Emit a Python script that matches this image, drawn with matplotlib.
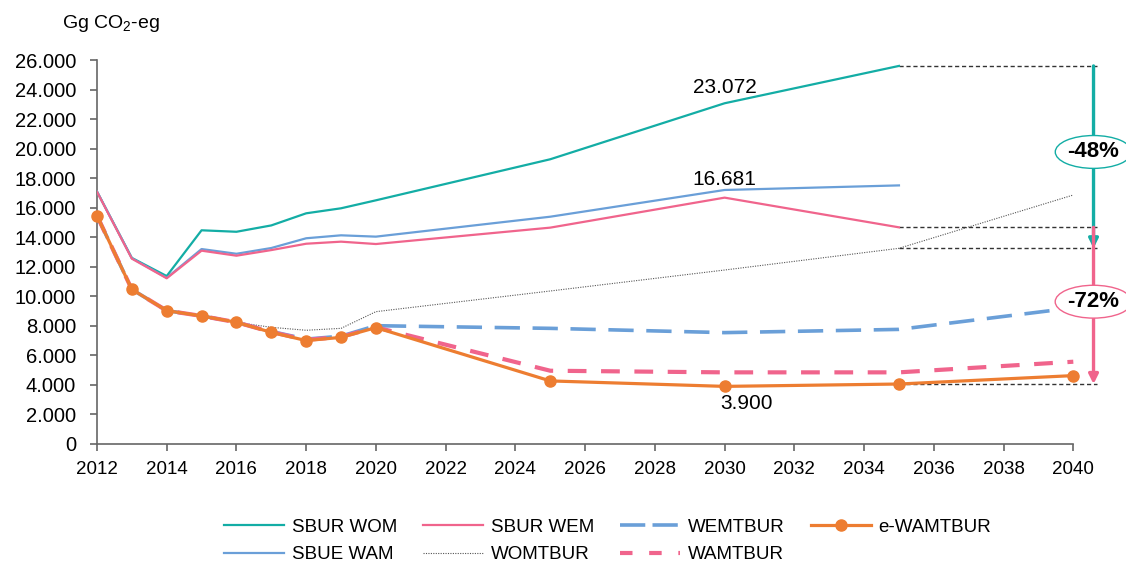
import matplotlib
matplotlib.use("Agg")
import matplotlib.pyplot as plt
from matplotlib.ticker import FuncFormatter, MultipleLocator
from matplotlib.lines import Line2D

plt.rcParams['font.family'] = ['Liberation Sans', 'DejaVu Sans']
plt.rcParams['mathtext.fontset'] = 'custom'
plt.rcParams['mathtext.rm'] = 'Liberation Sans'
plt.rcParams['mathtext.it'] = 'Liberation Sans:italic'

# ---------------- data ----------------
years_sbur = [2012, 2013, 2014, 2015, 2016, 2017, 2018, 2019, 2020, 2025, 2030, 2035]
years_tbur = [2012, 2013, 2014, 2015, 2016, 2017, 2018, 2019, 2020, 2025, 2030, 2035, 2040]

sbur_wom = [17100, 12600, 11370, 14470, 14370, 14800, 15620, 15960, 16500, 19280, 23072, 25600]
sbur_wem = [17080, 12550, 11220, 13090, 12750, 13130, 13560, 13700, 13540, 14650, 16681, 14670]
sbue_wam = [17100, 12580, 11250, 13200, 12880, 13270, 13930, 14130, 14040, 15390, 17200, 17510]

wom_tbur = [15460, 10470, 9030, 8670, 8240, 7900, 7700, 7830, 8960, 10360, 11780, 13250, 16860]
wem_tbur = [15460, 10470, 9030, 8670, 8240, 7620, 7100, 7300, 8010, 7830, 7540, 7760, 9220]
wam_tbur = [15460, 10470, 9030, 8670, 8240, 7580, 7050, 7250, 7900, 4960, 4850, 4850, 5570]
ewam_tbur = [15460, 10470, 9030, 8670, 8240, 7560, 7000, 7220, 7880, 4270, 3900, 4060, 4630]

labels = ["SBUR WOM", "SBUE WAM", "SBUR WEM", "WOMTBUR", "WEMTBUR", "WAMTBUR", "e-WAMTBUR"]
pct_labels = ["-48%", "-72%"]

# ---------------- style ----------------
teal = "#13ADA5"
pink = "#F0648C"
blue = "#6A9FD8"
orange = "#ED7D31"
gray = "#555555"

fig = plt.figure(figsize=(11.26, 5.62), dpi=100)
ax = fig.add_axes([0.0861, 0.2100, 0.9532 - 0.0861, 0.8932 - 0.2100])

ax.plot(years_sbur, sbur_wom, color=teal, lw=1.6, zorder=3)
ax.plot(years_sbur, sbue_wam, color=blue, lw=1.6, zorder=3)
ax.plot(years_sbur, sbur_wem, color=pink, lw=1.6, zorder=3.5)
ax.plot(years_tbur, wom_tbur, color=gray, lw=0.8, ls=(0, (1, 1.2)), zorder=2)
ax.plot(years_tbur, wem_tbur, color=blue, lw=2.6, ls=(0, (7, 3.5)), zorder=4, clip_on=False)
ax.plot(years_tbur, wam_tbur, color=pink, lw=3.0, ls=(0, (4.5, 3.5)), zorder=4.5, clip_on=False)
ax.plot(years_tbur, ewam_tbur, color=orange, lw=2.3, marker='o', ms=8, zorder=5, clip_on=False)

ax.set_xlim(2012, 2040)
ax.set_ylim(0, 26000)
ax.xaxis.set_major_locator(MultipleLocator(2))
ax.yaxis.set_major_locator(MultipleLocator(2000))
ax.yaxis.set_major_formatter(FuncFormatter(lambda v, p: f"{int(round(v)):,}".replace(",", ".")))
for s in ["top", "right"]:
    ax.spines[s].set_visible(False)
for s in ["left", "bottom"]:
    ax.spines[s].set_color("#666666")
    ax.spines[s].set_linewidth(1.2)
ax.tick_params(axis='both', colors="#666666", labelcolor="black", length=5, width=1.2)
ax.tick_params(axis='y', labelsize=14.5, pad=10)
ax.tick_params(axis='x', labelsize=13.5, pad=7)

# value labels
i30 = years_sbur.index(2030)
ax.annotate(f"{sbur_wom[i30]:,}".replace(",", "."), xy=(2030, sbur_wom[i30]), xytext=(0, 11.5),
            textcoords='offset points', ha='center', va='center', fontsize=15)
ax.annotate(f"{sbur_wem[i30]:,}".replace(",", "."), xy=(2030, sbur_wem[i30]), xytext=(0, 13),
            textcoords='offset points', ha='center', va='center', fontsize=15)
j30 = years_tbur.index(2030)
ax.annotate(f"{ewam_tbur[j30]:,}".replace(",", "."), xy=(2030, ewam_tbur[j30]), xytext=(16, -12),
            textcoords='offset points', ha='center', va='center', fontsize=15)

# reference dashed lines from 2035
x0 = 2035
x_end = 2040.67
x_arr = 2040.58
i35 = years_sbur.index(2035)
j35 = years_tbur.index(2035)
refs = [sbur_wom[i35], sbur_wem[i35], wom_tbur[j35], ewam_tbur[j35]]
for r in refs:
    ax.plot([x0, x_end], [r, r], color="#333333", lw=1.0, ls=(0, (3, 2)), clip_on=False, zorder=2)

# arrows
ax.annotate('', xy=(x_arr, wom_tbur[j35]), xytext=(x_arr, sbur_wom[i35]),
            arrowprops=dict(arrowstyle='-|>', color=teal, lw=2.4, mutation_scale=14, shrinkA=0, shrinkB=0),
            annotation_clip=False, zorder=6)
ax.annotate('', xy=(x_arr, ewam_tbur[j35]), xytext=(x_arr, sbur_wem[i35]),
            arrowprops=dict(arrowstyle='-|>', color=pink, lw=2.4, mutation_scale=14, shrinkA=0, shrinkB=0),
            annotation_clip=False, zorder=6.5)

ax.text(x_arr, (sbur_wom[i35] + wom_tbur[j35]) / 2 + 350, pct_labels[0], ha='center', va='center',
        fontsize=16, fontweight='bold', zorder=8, clip_on=False,
        bbox=dict(boxstyle='ellipse,pad=0.05', fc='white', ec=teal, lw=1.0))
ax.text(x_arr, (sbur_wem[i35] + ewam_tbur[j35]) / 2 + 270, pct_labels[1], ha='center', va='center',
        fontsize=16, fontweight='bold', zorder=8, clip_on=False,
        bbox=dict(boxstyle='ellipse,pad=0.05', fc='white', ec=pink, lw=1.0))

# y axis title
fig.text(62 / 1126, 1 - 23 / 562, "Gg CO$_2$-eg", ha='left', va='center', fontsize=14)

# legend
handles = [
    Line2D([], [], color=teal, lw=1.6),
    Line2D([], [], color=blue, lw=1.6),
    Line2D([], [], color=pink, lw=1.6),
    Line2D([], [], color=gray, lw=0.8, ls=(0, (1, 1.2))),
    Line2D([], [], color=blue, lw=2.6, ls=(0, (7, 2))),
    Line2D([], [], color=pink, lw=3.0, ls=(0, (3, 4))),
    Line2D([], [], color=orange, lw=2.3, marker='o', ms=8),
]
fig.legend(handles, labels, ncol=4, loc='center', bbox_to_anchor=(0.5395, 0.037), frameon=False,
           prop={'size': 13.5}, handlelength=3.2, handletextpad=0.4, columnspacing=1.4,
           labelspacing=0.55)

fig.savefig("out.png", dpi=100)
